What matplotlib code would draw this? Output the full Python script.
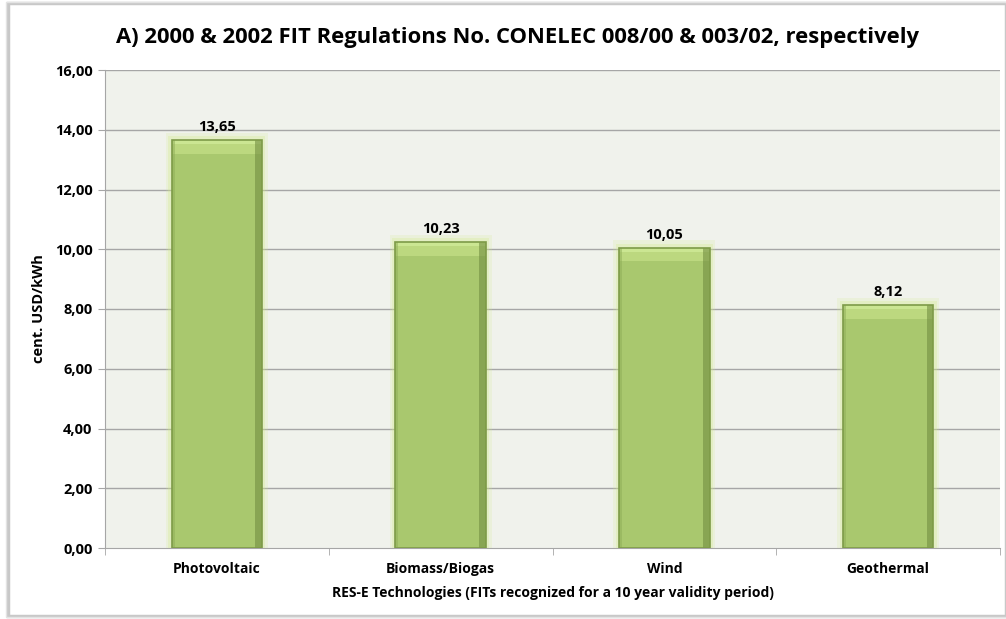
import matplotlib
matplotlib.use("Agg")
import matplotlib.pyplot as plt
from matplotlib.patches import Rectangle
import numpy as np

categories = ["Photovoltaic", "Biomass/Biogas", "Wind", "Geothermal"]
values = [13.65, 10.23, 10.05, 8.12]
yticks = [0, 2, 4, 6, 8, 10, 12, 14, 16]

plt.rcParams['font.family'] = ['Open Sans', 'DejaVu Sans']

fig = plt.figure(figsize=(10.06, 6.19), dpi=100)
fig.patch.set_facecolor('white')

# outer frame with shadow
fig.patches.append(Rectangle((8/1006, 3/619), 1 - 8/1006, 1 - 6/619,
                             transform=fig.transFigure, fill=False, edgecolor='#C8C8C8', lw=2.5, zorder=0))
fig.patches.append(Rectangle((6/1006, 2/619), 1, 1 - 4/619,
                             transform=fig.transFigure, fill=False, edgecolor='#E3E3E3', lw=1.0, zorder=0))

ax = fig.add_axes([105/1006, 1-548/619, (1000-105)/1006, (548-70)/619])
ax.set_facecolor('#F0F2EC')
x = np.arange(len(categories))
ax.set_xlim(-0.5, len(categories) - 0.5)
ax.set_ylim(0, 16)

for v in yticks[1:]:
    ax.axhline(v, color='#A6A6A6', lw=1.0, zorder=1)

w = 0.405
# glow
for i, v in enumerate(values):
    for k, a in [(0.025, 0.18), (0.014, 0.28)]:
        ax.add_patch(Rectangle((x[i] - w/2 - k, 0), w + 2*k, v + k*10, facecolor='#D2EA8A',
                               edgecolor='none', alpha=a, zorder=2))
ax.bar(x, values, width=w, color='#A9C86E', edgecolor='none', zorder=3)
for i, v in enumerate(values):
    ax.add_patch(Rectangle((x[i] - w/2, v - 0.45), w, 0.45, facecolor='#BCD87F',
                           edgecolor='none', zorder=4))
    ax.add_patch(Rectangle((x[i] - w/2, v - 0.13), w, 0.13, facecolor='#CBE692',
                           edgecolor='none', zorder=4))
    ax.add_patch(Rectangle((x[i] + w/2 - 0.03, 0), 0.03, v, facecolor='#738F42',
                           edgecolor='none', alpha=0.6, zorder=4))
    ax.add_patch(Rectangle((x[i] - w/2, 0), 0.014, v, facecolor='#8FAE58',
                           edgecolor='none', alpha=0.5, zorder=4))
    ax.add_patch(Rectangle((x[i] - w/2, 0), w, v, fill=False, edgecolor='#7E9B48', lw=1.2, zorder=5))
    ax.text(x[i], v + 0.2, f"{v:.2f}".replace('.', ','), ha='center', va='bottom',
            fontsize=10.5, fontweight='bold', color='black', zorder=6)

ax.set_yticks(yticks)
ax.set_yticklabels([f"{t:.2f}".replace('.', ',') for t in yticks], fontsize=10.5, fontweight='bold')
ax.set_xticks(x)
ax.set_xticklabels(categories, fontsize=10, fontweight='bold')
ax.set_xticks(np.arange(len(categories) + 1) - 0.5, minor=True)
ax.tick_params(axis='x', which='major', length=0, pad=10)
ax.tick_params(axis='x', which='minor', length=5, color='#A6A6A6')
ax.tick_params(axis='y', length=5, color='#A6A6A6', pad=4)

for s in ['top', 'right']:
    ax.spines[s].set_visible(False)
ax.spines['left'].set_color('#A6A6A6')
ax.spines['bottom'].set_color('#A6A6A6')

ax.set_ylabel("cent. USD/kWh", fontsize=10.5, fontweight='bold', labelpad=6)
ax.set_xlabel("RES-E Technologies (FITs recognized for a 10 year validity period)",
              fontsize=10, fontweight='bold', labelpad=7)
fig.text(0.514, 1 - 38/619, "A) 2000 & 2002 FIT Regulations No. CONELEC 008/00 & 003/02, respectively",
         ha='center', va='center', fontsize=15.8, fontweight='bold')

fig.savefig("out.png", dpi=100, facecolor='white')
